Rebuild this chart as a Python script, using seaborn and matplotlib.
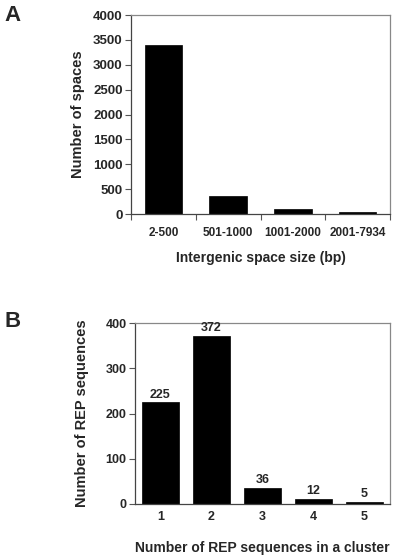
import matplotlib
matplotlib.use("Agg")
import matplotlib.pyplot as plt
import seaborn as sns
import pandas as pd

# --- dữ liệu panel A ---
space_sizes = ["2-500", "501-1000", "1001-2000", "2001-7934"]
space_counts = [3400, 360, 100, 35]

# --- dữ liệu panel B ---
cluster_sizes = ["1", "2", "3", "4", "5"]
rep_counts = [225, 372, 36, 12, 5]

sns.set_theme(style="white")
plt.rcParams['font.family'] = ['Liberation Sans', 'DejaVu Sans']
plt.rcParams['font.weight'] = 'bold'

fig = plt.figure(figsize=(4.0, 5.59), dpi=100)
ax1 = fig.add_axes([131 / 400, 1 - 214 / 559, 259 / 400, 199 / 559])
ax2 = fig.add_axes([135 / 400, 1 - 504 / 559, 255 / 400, 181 / 559])

df_a = pd.DataFrame({"size": space_sizes, "count": space_counts})
sns.barplot(data=df_a, x="size", y="count", color="black", width=0.58,
            saturation=1, edgecolor="black", linewidth=0.5, ax=ax1)
ax1.set_ylim(0, 4000)
ax1.set_yticks(range(0, 4001, 500))
ax1.set_xlim(-0.5, 3.5)
ax1.set_xticks([-0.5, 0.5, 1.5, 2.5, 3.5], minor=True)
ax1.tick_params(axis="x", which="major", length=0, pad=9, labelsize=8.5)
ax1.tick_params(axis="x", which="minor", length=4, width=0.8, color="#555555", bottom=True)
ax1.tick_params(axis="y", length=4, width=0.8, color="#555555", left=True, labelsize=9.5, pad=2)
ax1.set_xlabel("Intergenic space size (bp)", fontsize=10, fontweight="bold", labelpad=9)
ax1.set_ylabel("Number of spaces", fontsize=10.5, fontweight="bold", labelpad=6)

df_b = pd.DataFrame({"n": cluster_sizes, "count": rep_counts})
sns.barplot(data=df_b, x="n", y="count", color="black", width=0.72,
            saturation=1, edgecolor="black", linewidth=0.5, ax=ax2)
ax2.set_ylim(0, 400)
ax2.set_yticks(range(0, 401, 100))
ax2.set_xlim(-0.5, 4.5)
ax2.tick_params(axis="x", length=0, pad=5, labelsize=9)
ax2.tick_params(axis="y", length=4, width=0.8, color="#555555", left=True, labelsize=9, pad=2)
ax2.set_xlabel("Number of REP sequences in a cluster", fontsize=10, fontweight="bold", labelpad=13)
ax2.set_ylabel("Number of REP sequences", fontsize=10.5, fontweight="bold", labelpad=12)
for i, v in enumerate(rep_counts):
    ax2.text(i, v + 3, str(v), ha="center", va="bottom", fontsize=9, fontweight="bold")

for ax in (ax1, ax2):
    for side in ("top", "right"):
        ax.spines[side].set_color("#888888")
        ax.spines[side].set_linewidth(0.9)
    for side in ("left", "bottom"):
        ax.spines[side].set_color("#444444")
        ax.spines[side].set_linewidth(0.9)
    for lab in ax.get_xticklabels() + ax.get_yticklabels():
        lab.set_fontweight("bold")

fig.text(4 / 400, 1 - 21 / 559, "A", fontsize=16, fontweight="bold")
fig.text(4 / 400, 1 - 327 / 559, "B", fontsize=16, fontweight="bold")

fig.savefig("out.png", dpi=100)
